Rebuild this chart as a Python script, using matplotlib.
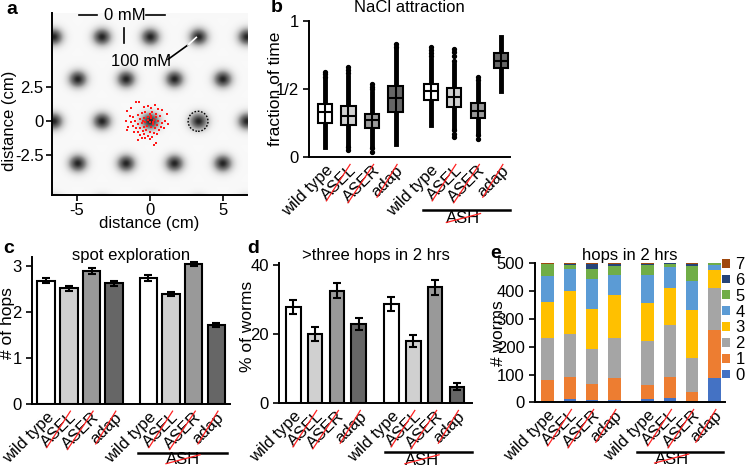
import numpy as np
import matplotlib
matplotlib.use('Agg')
import matplotlib.pyplot as plt
from matplotlib.lines import Line2D
from matplotlib.patches import Ellipse

plt.rcParams['font.family'] = ['Liberation Sans', 'DejaVu Sans']
plt.rcParams['font.size'] = 12
plt.rcParams['axes.unicode_minus'] = False
plt.rcParams['axes.linewidth'] = 1.4

# ---- data ----
genotypes = ['wild type', 'ASEL', 'ASER', 'adap', 'wild type', 'ASEL', 'ASER', 'adap']
struck = [False, True, True, True, False, True, True, True]
positions = [0, 1, 2, 3, 4.5, 5.5, 6.5, 7.5]
grays = ['white', '#d0d0d0', '#999999', '#666666'] * 2

# panel a: spot lattice (cm) and worm positions
spot_rows_y = [-6.25, -3.12, 0.0, 3.12, 6.25, 9.37]
spot_x_even = [-6.6, -3.3, 0.0, 3.3, 6.6]
spot_x_odd = [-8.25, -4.95, -1.65, 1.65, 4.95, 8.25]
worm_x = [-0.98, -0.75, -1.30, -1.57, -0.39, -0.11, 0.07, 0.34, 0.57, 0.80, 1.20,
          -1.39, -1.14, -0.80, -0.52, -0.30, -0.02, 0.16, 0.39, 0.70, 1.02, 1.25,
          -1.64, -1.30, -1.02, -0.68, -0.39, -0.16, 0.11, 0.30, 0.57, 0.84,
          -1.48, -1.14, -0.84, -0.57, -0.30, -0.02, 0.23, 0.48, 0.75, 0.98,
          -1.59, -0.98, -0.68, -0.43, -0.18, 0.07, 0.34, 0.64,
          -1.07, -0.80, -0.48, -0.23, 0.02, 0.25, 0.52,
          -0.68, -0.39, -0.11, 0.16, -0.57, -0.30, -0.84, 0.30, 0.45, -0.02,
          0.10, -0.10, 0.20, 0.40, -0.50]
worm_y = [1.41, 1.46, 1.01, 0.76, 1.04, 1.16, 0.96, 1.21, 0.91, 0.81, 0.54,
          0.42, 0.32, 0.47, 0.59, 0.67, 0.57, 0.71, 0.52, 0.42, 0.02, -0.23,
          0.02, -0.08, 0.02, 0.17, 0.22, 0.32, 0.22, 0.12, 0.02, -0.13,
          -0.40, -0.32, -0.23, -0.15, -0.03, -0.08, -0.18, -0.27, -0.42, -0.52,
          -0.65, -0.52, -0.47, -0.42, -0.32, -0.42, -0.52, -0.62,
          -0.82, -0.77, -0.72, -0.67, -0.77, -0.87, -0.92,
          -1.02, -0.97, -1.07, -1.17, -1.26, -1.22, -1.41, -1.76, -1.64, -1.31,
          0.40, 0.10, -0.05, 0.30, 0.00]

# panel b: NaCl attraction (fraction of time)
b_med = [0.33, 0.304, 0.27, 0.431, 0.488, 0.444, 0.34, 0.708]
b_q1 = [0.25, 0.235, 0.211, 0.331, 0.422, 0.37, 0.284, 0.65]
b_q3 = [0.39, 0.373, 0.316, 0.525, 0.539, 0.51, 0.40, 0.765]
b_lo = [0.078, 0.10, 0.09, 0.097, 0.236, 0.212, 0.187, 0.485]
b_hi = [0.566, 0.59, 0.468, 0.785, 0.712, 0.676, 0.54, 0.878]
b_fliers = [[0.59, 0.608, 0.622],
            [0.615, 0.639, 0.663, 0.078, 0.053],
            [0.498, 0.517, 0.534, 0.066, 0.041],
            [0.81, 0.829],
            [0.742, 0.766, 0.785, 0.805],
            [0.707, 0.744, 0.769, 0.793, 0.2, 0.17, 0.146],
            [0.566, 0.586, 0.163, 0.132],
            []]

# panel c: spot exploration (# of hops)
c_mean = [2.68, 2.51, 2.89, 2.62, 2.74, 2.39, 3.04, 1.72]
c_err = [0.06, 0.05, 0.07, 0.05, 0.06, 0.05, 0.05, 0.04]

# panel d: % of worms with >three hops in 2 hrs
d_mean = [27.8, 20.0, 32.6, 23.0, 28.8, 18.0, 33.5, 4.8]
d_err = [2.0, 2.0, 2.2, 1.8, 2.0, 1.8, 2.2, 1.0]

# panel e: number of worms by hops in 2 hrs
hop_labels = ['0', '1', '2', '3', '4', '5', '6', '7']
hop_colors = ['#4472c4', '#ed7d31', '#a5a5a5', '#ffc000', '#5b9bd5', '#70ad47', '#264478', '#9e480e']
hop_counts = [
    [6, 12, 8, 8, 11, 16, 0, 86],
    [74, 78, 59, 81, 53, 76, 38, 174],
    [153, 155, 126, 141, 157, 186, 122, 150],
    [129, 155, 143, 156, 136, 133, 172, 66],
    [94, 78, 108, 71, 101, 75, 104, 17],
    [40, 16, 36, 33, 36, 12, 54, 7],
    [2, 4, 19, 8, 5, 2, 8, 0],
    [2, 2, 1, 2, 1, 0, 2, 0],
]

fig = plt.figure(figsize=(7.48, 4.67), dpi=100)

# ---- panel a ----
ax_a = fig.add_axes([0.0695, 0.5824, 0.2607, 0.3897])
xs = np.linspace(-6.7, 6.65, 400)
ys = np.linspace(-5.45, 8.0, 400)
X, Y = np.meshgrid(xs, ys)
field = np.zeros_like(X)
for i, ry in enumerate(spot_rows_y):
    row = spot_x_even if i % 2 == 0 else spot_x_odd
    for rx in row:
        field += np.exp(-((X - rx) ** 2 + (Y - ry) ** 2) / (2 * 0.47 ** 2))
field = np.clip(field, 0, 1)
ax_a.imshow(0.05 + 0.83 * field, cmap='Greys', vmin=0, vmax=1, origin='lower',
            extent=[-6.7, 6.65, -5.45, 8.0], aspect='auto', interpolation='bilinear')
ax_a.scatter(worm_x, worm_y, s=4, marker='s', color='#ff1a1a', linewidths=0, zorder=3)
ax_a.add_patch(Ellipse((3.3, 0), 1.36, 1.48, fill=False, ls=(0, (1.2, 1.2)), lw=1, color='black'))
ax_a.plot([-4.84, -3.64], [7.82, 7.82], color='black', lw=1.2)
ax_a.plot([-0.23, 1.07], [7.82, 7.82], color='black', lw=1.2)
ax_a.text(-1.7, 7.82, '0 mM', ha='center', va='center')
ax_a.plot([-1.77, -1.77], [5.76, 6.87], color='black', lw=1.2)
ax_a.text(-0.57, 4.41, '100 mM', ha='center', va='center')
ax_a.plot([1.25, 2.61], [4.58, 5.64], color='black', lw=1.2)
ax_a.plot([2.61, 3.18], [5.64, 6.2], color='white', lw=1.2)
ax_a.set_xlim(-6.7, 6.65)
ax_a.set_ylim(-5.45, 8.0)
ax_a.set_xticks([-5, 0, 5])
ax_a.set_yticks([-2.5, 0, 2.5])
ax_a.set_yticklabels(['-2.5', '0', '2.5'])
ax_a.spines[['top', 'right']].set_visible(False)
ax_a.set_xlabel('distance (cm)')
ax_a.set_ylabel('distance (cm)')
ax_a.xaxis.set_label_coords(0.5, -0.115)
ax_a.yaxis.set_label_coords(-0.18, 0.41)

# ---- panel b ----
ax_b = fig.add_axes([0.4131, 0.6632, 0.2687, 0.2925])
stats = []
for i in range(8):
    stats.append(dict(med=b_med[i], q1=b_q1[i], q3=b_q3[i], whislo=b_lo[i],
                      whishi=b_hi[i], fliers=b_fliers[i]))
bp = ax_b.bxp(stats, positions=positions, widths=0.6, patch_artist=True, showcaps=False,
              boxprops=dict(lw=1.5, edgecolor='black', zorder=3),
              whiskerprops=dict(lw=3.5, color='black', zorder=2),
              medianprops=dict(lw=1.5, color='black', zorder=4),
              flierprops=dict(marker='o', markersize=2.8, markerfacecolor='black',
                              markeredgecolor='black'))
for patch, col in zip(bp['boxes'], grays):
    patch.set_facecolor(col)
ax_b.vlines(positions, b_q1, b_q3, color='black', lw=1.5, zorder=4)
ax_b.set_xlim(-0.68, 7.87)
ax_b.set_ylim(0, 1)
ax_b.set_yticks([0, 0.5, 1])
ax_b.set_yticklabels(['0', '1/2', '1'])
ax_b.set_ylabel('fraction of time', fontsize=12.5)
ax_b.yaxis.set_label_coords(-0.13, 0.5)
ax_b.text(0.5, 1.093, 'NaCl attraction', transform=ax_b.transAxes, ha='center', va='center')


def bar_axes(ax, xlim, title, title_y):
    ax.set_xlim(*xlim)
    ax.spines[['top', 'right']].set_visible(False)
    ax.text(0.5, title_y, title, transform=ax.transAxes, ha='center', va='center')


# ---- panel c ----
ax_c = fig.add_axes([0.0428, 0.1349, 0.2647, 0.3154])
ax_c.bar(positions, c_mean, width=0.77, color=grays, edgecolor='black', lw=1.5,
         yerr=c_err, error_kw=dict(lw=1.5, capsize=3, capthick=1.5))
bar_axes(ax_c, (-0.62, 8.1), 'spot exploration', 1.01)
ax_c.set_ylim(0, 3.2)
ax_c.set_yticks([0, 1, 2, 3])
ax_c.set_ylabel('# of hops', fontsize=12.5)
ax_c.yaxis.set_label_coords(-0.085, 0.55)

# ---- panel d ----
ax_d = fig.add_axes([0.3734, 0.1364, 0.2572, 0.2998])
ax_d.bar(positions, d_mean, width=0.67, color=grays, edgecolor='black', lw=1.5,
         yerr=d_err, error_kw=dict(lw=1.5, capsize=3, capthick=1.5))
bar_axes(ax_d, (-0.64, 8.18), '>three hops in 2 hrs', 1.054)
ax_d.set_ylim(0, 40.5)
ax_d.set_yticks([0, 20, 40])
ax_d.set_ylabel('% of worms', fontsize=12.5)
ax_d.yaxis.set_label_coords(-0.125, 0.55)

# ---- panel e ----
ax_e = fig.add_axes([0.7152, 0.1385, 0.254, 0.2976])
bottom = np.zeros(8)
handles = []
for k in range(8):
    h = ax_e.bar(positions, hop_counts[k], bottom=bottom, width=0.56,
                 color=hop_colors[k], lw=0, label=hop_labels[k])
    handles.append(h)
    bottom += np.array(hop_counts[k])
bar_axes(ax_e, (-0.57, 7.98), 'hops in 2 hrs', 1.055)
ax_e.set_ylim(0, 500)
ax_e.set_yticks([0, 100, 200, 300, 400, 500])
ax_e.set_ylabel('# worms', fontsize=12.5)
ax_e.yaxis.set_label_coords(-0.155, 0.5)
ax_e.legend(handles[::-1], hop_labels[::-1], loc='upper left', bbox_to_anchor=(0.985, 1.045),
            frameon=False, handlelength=0.45, handleheight=0.45, handletextpad=0.35,
            labelspacing=0.05, borderpad=0, borderaxespad=0)

for ax in [ax_a, ax_b, ax_c, ax_d, ax_e]:
    ax.tick_params(width=1.2, length=4)
ax_a.tick_params(pad=2)
for ax in [ax_b, ax_c, ax_d, ax_e]:
    ax.spines[['top', 'right']].set_visible(False)
    ax.set_xticks(positions)
    ax.set_xticklabels(genotypes, rotation=45, ha='right', va='top', rotation_mode='anchor')
    ax.tick_params(axis='x', length=0, pad=4)

# ASH bars below the second group
ash_spec = {ax_b: (4.17, 7.87, -0.386, 5.89, -0.45),
            ax_c: (4.06, 7.98, -0.33, 6.03, -0.38),
            ax_d: (4.2, 8.18, -0.35, 5.9, -0.405),
            ax_e: (4.0, 7.88, -0.36, 5.58, -0.41)}
ash_texts = []
for ax, (x0, x1, ly, tx, ty) in ash_spec.items():
    ax.plot([x0, x1], [ly, ly], color='black', lw=1.8, clip_on=False,
            transform=ax.get_xaxis_transform())
    ash_texts.append(ax.text(tx, ty, 'ASH', ha='center', va='center',
                             transform=ax.get_xaxis_transform()))

fig.text(0.009, 0.979, 'a', fontsize=14, fontweight='bold', va='center')
fig.text(0.362, 0.983, 'b', fontsize=14, fontweight='bold', va='center')
fig.text(0.005, 0.467, 'c', fontsize=14, fontweight='bold', va='center')
fig.text(0.330, 0.467, 'd', fontsize=14, fontweight='bold', va='center')
fig.text(0.656, 0.458, 'e', fontsize=14, fontweight='bold', va='center')

# red strike-through for ablated neurons
fig.canvas.draw()
renderer = fig.canvas.get_renderer()


def strike(t):
    _, info, _ = t._get_layout(renderer)
    W, H = info[0][1]
    bb = t.get_window_extent(renderer)
    ang = np.deg2rad(t.get_rotation())
    origin = np.array([bb.x0 + H * np.sin(ang), bb.y0])
    pts = np.array([[0.0, 0.25 * H], [W, 0.85 * H]])
    rot = np.array([[np.cos(ang), -np.sin(ang)], [np.sin(ang), np.cos(ang)]])
    xy = pts @ rot.T + origin
    xy = fig.transFigure.inverted().transform(xy)
    fig.add_artist(Line2D(xy[:, 0], xy[:, 1], transform=fig.transFigure, color='#ff2020', lw=0.9))


for ax in [ax_b, ax_c, ax_d, ax_e]:
    for t, s in zip(ax.get_xticklabels(), struck):
        if s:
            strike(t)
for t in ash_texts:
    strike(t)

fig.savefig('out.png', dpi=100)
